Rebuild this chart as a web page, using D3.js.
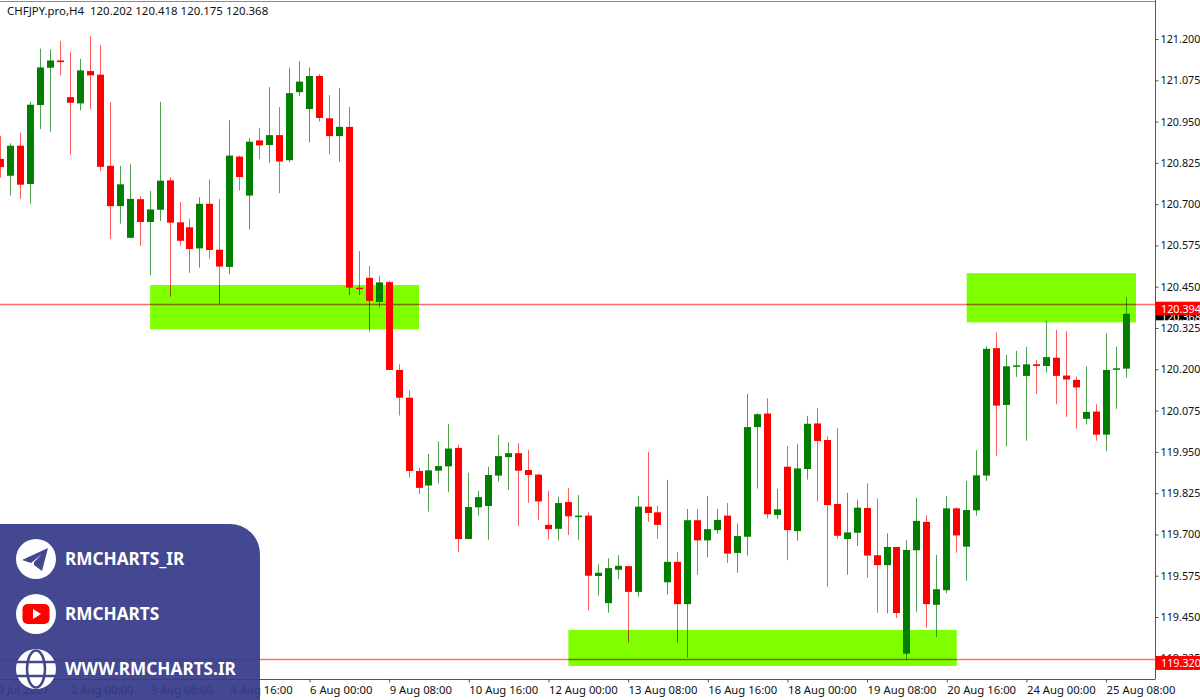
<!DOCTYPE html>
<html>
<head>
<meta charset="utf-8">
<script src="https://cdn.jsdelivr.net/npm/d3@7"></script>
<style>
html,body{margin:0;padding:0;background:#fff;overflow:hidden}
svg{display:block}
text{font-family:"Noto Sans",Arial,sans-serif}
</style>
</head>
<body>
<svg id="c" width="1200" height="700"></svg>
<script>
const titleText = "CHFJPY.pro,H4  120.202 120.418 120.175 120.368";
const open = [120.837,120.786,120.877,120.761,121.000,121.113,121.135,121.024,121.005,121.103,121.092,120.816,120.694,120.598,120.715,120.646,120.683,120.772,120.645,120.630,
120.566,120.701,120.562,120.510,120.844,120.726,120.893,120.879,120.909,120.833,121.039,120.988,121.088,120.960,120.906,120.934,120.447,120.477,120.404,120.464,
120.198,120.114,119.892,119.848,119.893,119.906,119.962,119.686,119.782,119.786,119.878,119.934,119.946,119.895,119.881,119.729,119.717,119.798,119.753,119.757,
119.574,119.492,119.593,119.604,119.526,119.784,119.767,119.555,119.617,119.489,119.743,119.682,119.713,119.757,119.644,119.693,120.025,120.066,119.759,119.905,
119.710,119.898,120.036,119.986,119.792,119.686,119.705,119.780,119.637,119.607,119.662,119.339,119.652,119.738,119.487,119.531,119.779,119.663,119.773,119.878,
120.264,120.092,120.208,120.180,120.215,120.210,120.235,120.181,120.168,120.050,120.072,120.002,120.199,120.202];
const high = [120.907,120.884,120.917,121.010,121.171,121.169,121.194,121.161,121.140,121.209,121.182,121.009,120.816,120.822,120.724,120.740,121.010,120.781,120.706,120.656,
120.721,120.775,120.716,120.954,120.847,120.900,120.931,121.054,120.994,121.113,121.133,121.114,121.094,121.030,121.051,120.994,120.558,120.513,120.482,120.467,
120.215,120.136,119.902,119.944,119.982,120.035,119.971,119.887,119.832,119.905,120.001,119.979,119.976,119.955,119.883,119.832,119.815,119.840,119.819,119.767,
119.610,119.628,119.637,119.605,119.817,119.950,119.787,119.865,119.646,119.777,119.777,119.816,119.777,119.795,119.733,120.125,120.067,120.112,119.838,119.968,
119.974,120.059,120.083,119.997,120.022,119.826,119.805,119.855,119.809,119.703,119.662,119.682,119.810,119.758,119.638,119.816,119.782,119.862,119.955,120.270,
120.312,120.244,120.256,120.268,120.228,120.347,120.319,120.315,120.178,120.209,120.094,120.309,120.268,120.418];
const low = [120.780,120.726,120.716,120.701,120.927,120.919,121.090,120.850,120.984,120.988,120.800,120.595,120.641,120.598,120.574,120.485,120.649,120.420,120.574,120.492,
120.508,120.535,120.398,120.488,120.741,120.623,120.836,120.825,120.733,120.827,121.027,120.887,120.950,120.851,120.829,120.425,120.425,120.314,120.388,120.198,
120.060,119.872,119.822,119.769,119.854,119.828,119.646,119.686,119.757,119.684,119.860,119.835,119.726,119.796,119.743,119.685,119.682,119.698,119.684,119.470,
119.515,119.463,119.565,119.373,119.512,119.738,119.687,119.518,119.373,119.327,119.578,119.631,119.702,119.614,119.584,119.636,119.839,119.748,119.746,119.622,
119.681,119.866,119.800,119.542,119.687,119.578,119.665,119.569,119.463,119.461,119.447,119.320,119.466,119.418,119.389,119.522,119.645,119.560,119.757,119.862,
119.938,119.966,120.177,119.984,120.126,120.190,120.094,120.056,120.020,120.033,119.984,119.952,120.080,120.175];
const close = [120.812,120.877,120.759,121.001,121.114,121.135,121.130,121.007,121.105,121.090,120.813,120.694,120.760,120.716,120.646,120.684,120.771,120.644,120.589,120.564,
120.701,120.561,120.511,120.847,120.782,120.889,120.878,120.909,120.829,121.036,121.071,121.088,120.961,120.906,120.934,120.447,120.444,120.407,120.463,120.198,
120.114,119.892,119.841,119.894,119.907,119.960,119.686,119.783,119.813,119.880,119.937,119.946,119.893,119.880,119.800,119.716,119.795,119.755,119.757,119.575,
119.584,119.598,119.605,119.526,119.784,119.765,119.729,119.617,119.489,119.743,119.682,119.716,119.744,119.642,119.695,120.025,120.064,119.761,119.776,119.713,
119.900,120.035,119.983,119.789,119.696,119.706,119.781,119.636,119.607,119.662,119.462,119.653,119.741,119.489,119.534,119.779,119.697,119.774,119.879,120.262,
120.090,120.209,120.212,120.215,120.210,120.237,120.180,120.169,120.145,120.071,120.002,120.198,120.203,120.368];

const priceTicks = [121.2,121.075,120.95,120.825,120.7,120.575,120.45,120.325,120.2,120.075,119.95,119.825,119.7,119.575,119.45,119.325];
const timeTickIndex = [-1,7,15,23,31,39,47,55,63,71,79,87,95,103,111];
const timeTickLabels = ["29 Jul 2021","2 Aug 00:00","3 Aug 08:00","4 Aug 16:00","6 Aug 00:00","9 Aug 08:00","10 Aug 16:00","12 Aug 00:00","13 Aug 08:00","16 Aug 16:00","18 Aug 00:00","19 Aug 08:00","20 Aug 16:00","24 Aug 00:00","25 Aug 08:00"];
const levelPrices = [120.394,119.320];
const lastPrice = 120.368;
const zoneStart = [15,57,97];
const zoneEnd = [42,96,114];
const zoneTop = [120.455,119.411,120.491];
const zoneBottom = [120.321,119.302,120.342];
const panelLabels = ["RMCHARTS_IR","RMCHARTS","WWW.RMCHARTS.IR"];

const W=1200,H=700,plotR=1155,plotB=679.5;
const svg=d3.select("#c");
const x=d3.scaleLinear().domain([0,113]).range([0.8,1126]);
const y=d3.scaleLinear().domain([121.2,119.45]).range([39,617]);
const px=v=>Math.floor(x(v))+0.5;
const axisFont="Noto Sans";

// frame
svg.append("line").attr("x1",0).attr("x2",plotR).attr("y1",1.5).attr("y2",1.5).attr("stroke","#8a8a8a");
const defs=svg.append("defs");
defs.append("clipPath").attr("id","plot").append("rect").attr("x",0).attr("y",2).attr("width",plotR).attr("height",plotB-2);

const plot=svg.append("g").attr("clip-path","url(#plot)");

// zones
plot.selectAll("rect.zone").data(zoneStart).join("rect").attr("class","zone")
 .attr("x",(d)=>x(d)).attr("width",(d,i)=>x(zoneEnd[i])-x(d))
 .attr("y",(d,i)=>y(zoneTop[i])).attr("height",(d,i)=>y(zoneBottom[i])-y(zoneTop[i]))
 .attr("fill","#7fff00");

const idx=d3.range(open.length);
const up=i=>close[i]>=open[i];
const blend=s=>s.style("mix-blend-mode","multiply");

// wicks
plot.selectAll("line.wick").data(idx).join("line").attr("class","wick")
 .attr("x1",px).attr("x2",px).attr("y1",i=>y(high[i])).attr("y2",i=>y(low[i]))
 .attr("stroke",i=>up(i)?"#4f9f4f":"#ff5a5a").attr("stroke-width",1).call(blend);

// price level lines
plot.selectAll("line.level").data(levelPrices).join("line").attr("class","level")
 .attr("x1",0).attr("x2",plotR).attr("y1",d=>Math.round(y(d))-0.5).attr("y2",d=>Math.round(y(d))-0.5)
 .attr("stroke","#ff6c6c").attr("stroke-width",1.3).call(blend);

// bodies
plot.selectAll("rect.body").data(idx).join("rect").attr("class","body")
 .attr("x",i=>px(i)-3.5).attr("width",7)
 .attr("y",i=>y(Math.max(open[i],close[i])))
 .attr("height",i=>Math.max(1.5,Math.abs(y(open[i])-y(close[i]))))
 .attr("fill",i=>up(i)?"#007f00":"#ff0000");

// axes
const yAxis=d3.axisRight(y).tickValues(priceTicks).tickFormat(d3.format(".3f")).tickSize(3).tickPadding(2);
const gy=svg.append("g").attr("transform",`translate(${plotR+0.5},0)`).call(yAxis);
gy.select(".domain").attr("d",`M0,0V${plotB}`).attr("stroke","#555");
gy.selectAll("text").attr("font-size",10.8).attr("fill","#111").attr("font-family",axisFont);
gy.selectAll("line").attr("stroke","#555");

const xAxis=d3.axisBottom(x).tickValues(timeTickIndex).tickFormat((d,i)=>timeTickLabels[i]).tickSize(3).tickPadding(2);
const gx=svg.append("g").attr("transform",`translate(0,${plotB})`).call(xAxis);
gx.select(".domain").attr("d",`M0,0H${plotR}`).attr("stroke","#555");
gx.selectAll("line").attr("stroke","#555");
gx.selectAll("text").attr("text-anchor","start").attr("font-size",11.3).attr("fill","#111").attr("font-family",axisFont).attr("dy","0").attr("y",14);

// price tags
function tag(price,bg,y0,y1,ty){
 svg.append("rect").attr("x",plotR+1).attr("y",y(price)+y0).attr("width",W-plotR).attr("height",y1-y0).attr("fill",bg);
 svg.append("text").attr("x",plotR+6).attr("y",y(price)+ty).attr("fill","#fff").attr("font-size",10.8).text(d3.format(".3f")(price));
}
tag(lastPrice,"#000",-4.5,6.5,7);
tag(levelPrices[0],"#ff0000",-3.5,10,7.5);
tag(levelPrices[1],"#ff0000",-4,10,7.5);

// title
svg.append("text").attr("x",7).attr("y",14.5).attr("font-size",11.45).attr("fill","#111").style("white-space","pre").text(titleText);

// panel
const pc="#363a89";
svg.append("path").attr("d","M0,524H230A30,30 0 0 1 260,554V700H0Z").attr("fill",pc).attr("fill-opacity",0.93);
const cy=[559,614,669];
svg.selectAll("circle.ic").data(cy).join("circle").attr("class","ic").attr("cx",36).attr("cy",d=>d).attr("r",20).attr("fill","#fff");
svg.selectAll("text.pl").data(panelLabels).join("text").attr("class","pl").attr("x",65).attr("y",(d,i)=>cy[i]+6)
 .attr("font-weight",700).attr("font-size",17.2).attr("fill","#fff").text(d=>d);
// telegram
svg.append("path").attr("transform","translate(36,559)").attr("d","M-14,1 L12,-11 L6,12 L-2,6 L-2,3 L6,-5 L-5,4 Z").attr("fill","#43478f");
// youtube
const yt=svg.append("g").attr("transform","translate(36,614)");
yt.append("rect").attr("x",-13.5).attr("y",-10).attr("width",27).attr("height",20).attr("rx",5).attr("fill","#f00");
yt.append("path").attr("d","M-3,-5 L5,0 L-3,5 Z").attr("fill","#fff");
// globe
const gl=svg.append("g").attr("transform","translate(36,669)").attr("fill","none").attr("stroke","#43478f").attr("stroke-width",2.5);
gl.append("ellipse").attr("rx",9).attr("ry",18.5);
gl.append("line").attr("x1",-20).attr("x2",20).attr("y1",-7).attr("y2",-7);
gl.append("line").attr("x1",-20).attr("x2",20).attr("y1",7).attr("y2",7);
</script>
</body>
</html>
